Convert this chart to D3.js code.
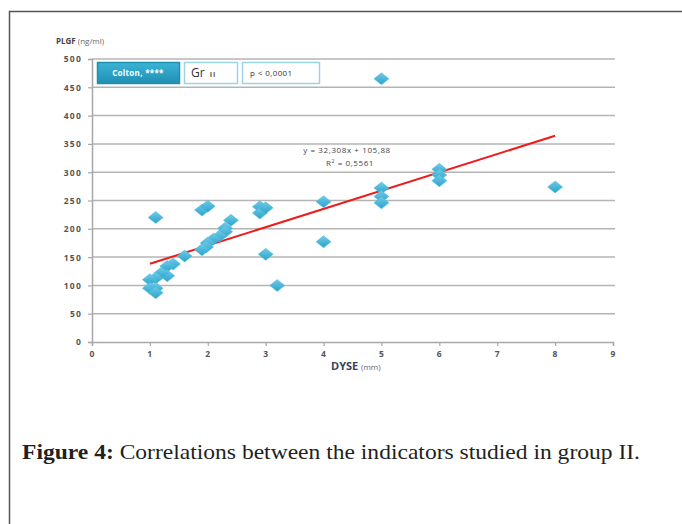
<!DOCTYPE html>
<html>
<head>
<meta charset="utf-8">
<script src="https://cdn.jsdelivr.net/npm/d3@7"></script>
<style>
  body { margin: 0; background: #fff; }
  svg { display: block; }
</style>
</head>
<body>
<div id="chart"></div>
<script>
// DYSE (mm) vs PLGF (ng/ml), group II
const dyse = [1.1, 1.9, 2.0, 2.9, 2.9, 3.0, 2.4, 2.3, 2.3, 2.2, 2.1, 2.0, 1.97, 1.9, 1.6, 1.4, 1.3, 1.3, 1.2, 1.1, 1.0, 1.0, 1.1, 1.1, 3.0, 3.2, 4.0, 4.0, 5.0, 5.0, 5.0, 5.0, 6.0, 6.0, 6.0, 8.0];
const plgf = [220, 233, 240, 239, 228, 237, 215, 201, 195, 187, 182, 175, 168, 163, 152, 138, 134, 117, 122, 113, 110, 95, 95, 87, 155, 100, 248, 177, 465, 272, 257, 246, 305, 295, 285, 274];
const trendSlope = 32.308;
const trendIntercept = 105.88;
const trendRange = [1, 8];
const xTicks = [0, 1, 2, 3, 4, 5, 6, 7, 8, 9];
const yTicks = [0, 50, 100, 150, 200, 250, 300, 350, 400, 450, 500];

const width = 682, height = 524;
const svg = d3.select('#chart').append('svg')
  .attr('width', width)
  .attr('height', height);

// outer frame (only top and left visible)
svg.append('path')
  .attr('d', 'M9.5,524 V11.5 H682')
  .attr('fill', 'none')
  .attr('stroke', '#555')
  .attr('stroke-width', 1.5);

const x = d3.scaleLinear().domain([0, 9]).range([92, 613]);
const y = d3.scaleLinear().domain([0, 500]).range([342, 59]);

// gridlines
svg.append('g').selectAll('line').data(yTicks.filter(d => d > 0)).enter().append('line')
  .attr('x1', x(0)).attr('x2', 615)
  .attr('y1', d => y(d)).attr('y2', d => y(d))
  .attr('stroke', '#b4b4b4')
  .attr('stroke-width', 1.5);

// axes
const yAxis = svg.append('g')
  .attr('transform', `translate(${x(0)},0)`)
  .call(d3.axisLeft(y).tickValues(yTicks).tickSize(4).tickPadding(6).tickFormat(d3.format('d')));
const xAxis = svg.append('g')
  .attr('transform', `translate(0,${y(0)})`)
  .call(d3.axisBottom(x).tickValues(xTicks).tickSize(4).tickPadding(5).tickFormat(d3.format('d')));

[yAxis, xAxis].forEach(ax => {
  ax.select('.domain').attr('stroke', '#a8a8a8').attr('stroke-width', 1.5);
  ax.selectAll('.tick line').attr('stroke', '#a8a8a8').attr('stroke-width', 1.2);
  ax.selectAll('.tick text')
    .attr('fill', '#555')
    .attr('font-family', 'Open Sans, sans-serif')
    .attr('font-size', 8.5)
    .attr('font-weight', 'bold')
    .attr('letter-spacing', 1.2);
});
yAxis.selectAll('.tick text').attr('dy', '0.35em');

// axis titles
const yTitle = svg.append('text')
  .attr('x', 56).attr('y', 44)
  .attr('font-family', 'Open Sans, sans-serif')
  .attr('fill', '#444');
yTitle.append('tspan').attr('font-size', 8).attr('font-weight', 'bold').text('PLGF ');
yTitle.append('tspan').attr('font-size', 8).attr('fill', '#666').text('(ng/ml)');

const xTitle = svg.append('text')
  .attr('x', 331).attr('y', 370)
  .attr('font-family', 'Open Sans, sans-serif');
xTitle.append('tspan').attr('font-size', 11).attr('font-weight', 'bold').attr('fill', '#3a3f5a').text('DYSE ');
xTitle.append('tspan').attr('font-size', 8).attr('fill', '#666').text('(mm)');

// legend boxes
const defs = svg.append('defs');
const grad = defs.append('linearGradient').attr('id', 'tealbox').attr('x1', 0).attr('y1', 0).attr('x2', 0).attr('y2', 1);
grad.append('stop').attr('offset', '0%').attr('stop-color', '#3cb4d6');
grad.append('stop').attr('offset', '100%').attr('stop-color', '#1f8fb2');

const boxes = [
  { x0: 97, x1: 179 },
  { x0: 184, x1: 237 },
  { x0: 242, x1: 319 }
];
const lg = svg.append('g').selectAll('rect').data(boxes).enter().append('rect')
  .attr('x', d => d.x0 + 0.5)
  .attr('y', 62.5)
  .attr('width', d => d.x1 - d.x0)
  .attr('height', 21)
  .attr('fill', (d, i) => i === 0 ? 'url(#tealbox)' : '#fff')
  .attr('stroke', (d, i) => i === 0 ? '#1f8fb2' : '#9ed3e4')
  .attr('stroke-width', 1.5);

const lt = svg.append('g').attr('font-family', 'Open Sans, sans-serif');
lt.append('text').attr('x', 138).attr('y', 76).attr('text-anchor', 'middle')
  .attr('font-size', 8).attr('font-weight', 'bold').attr('fill', '#fff').attr('letter-spacing', 0.3)
  .text('Colton, ****');
const gr = lt.append('text').attr('x', 191).attr('y', 77).attr('fill', '#333');
gr.append('tspan').attr('font-size', 12).text('Gr');
gr.append('tspan').attr('dx', 5).attr('font-size', 7).attr('font-weight', 'bold').attr('fill', '#555').attr('letter-spacing', 1).text('II');
lt.append('text').attr('x', 250).attr('y', 76).attr('font-size', 8).attr('fill', '#333').attr('letter-spacing', 0.4)
  .text('p < 0,0001');

// trend line
svg.append('line')
  .attr('x1', x(trendRange[0])).attr('y1', y(trendSlope * trendRange[0] + trendIntercept))
  .attr('x2', x(trendRange[1])).attr('y2', y(trendSlope * trendRange[1] + trendIntercept))
  .attr('stroke', '#ee1b1b')
  .attr('stroke-width', 2);

// diamonds
const dgrad = defs.append('linearGradient').attr('id', 'diam').attr('x1', 0).attr('y1', 0).attr('x2', 0).attr('y2', 1);
dgrad.append('stop').attr('offset', '0%').attr('stop-color', '#6fcbe6');
dgrad.append('stop').attr('offset', '100%').attr('stop-color', '#2aa3cc');
svg.append('g').selectAll('path').data(dyse).enter().append('path')
  .attr('transform', (d, i) => `translate(${x(d)},${y(plgf[i])})`)
  .attr('d', 'M0,-6 L7.5,0 L0,6 L-7.5,0 Z')
  .attr('fill', 'url(#diam)')
  .attr('stroke', '#4fbadc')
  .attr('stroke-width', 0.5);

// equation
const eq = svg.append('g')
  .attr('font-family', 'Open Sans, sans-serif')
  .attr('font-size', 8)
  .attr('fill', '#444')
  .attr('letter-spacing', 0.6);
eq.append('text').attr('x', 347).attr('y', 153).attr('text-anchor', 'middle').text('y = 32,308x + 105,88');
const r2 = eq.append('text').attr('x', 350).attr('y', 166).attr('text-anchor', 'middle');
r2.append('tspan').text('R');
r2.append('tspan').attr('dy', -3).attr('font-size', 5).text('2');
r2.append('tspan').attr('dy', 3).text(' = 0,5561');

// caption
const cap = svg.append('text')
  .attr('x', 22).attr('y', 459)
  .attr('font-family', 'Liberation Serif, serif')
  .attr('font-size', 21)
  .attr('fill', '#231f20')
  .attr('textLength', 618)
  .attr('lengthAdjust', 'spacingAndGlyphs');
cap.append('tspan').attr('font-weight', 'bold').text('Figure 4:');
cap.append('tspan').text(' Correlations between the indicators studied in group II.');
</script>
</body>
</html>
